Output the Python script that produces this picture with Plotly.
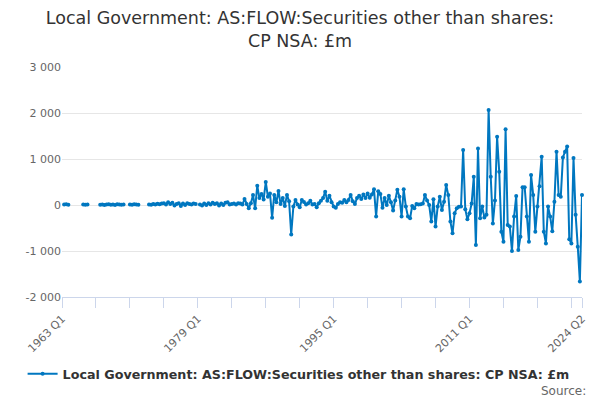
import plotly.graph_objects as go

# quarterly categories 1963 Q1 .. 2024 Q2
years = list(range(1963, 2025))
quarters = [f"{y} Q{q}" for y in years for q in (1, 2, 3, 4)][:246]

# £m, one row per year (None = no data)
values = [
    None, 10, 15, 5,          # 1963
    None, None, None, None,   # 1964
    None, None, 10, 5,        # 1965
    10, None, None, None,     # 1966
    None, None, 5, 10,        # 1967
    0, 10, 15, 5,             # 1968
    10, 0, 15, 10,            # 1969
    5, 10, None, None,        # 1970
    10, 5, 15, 10,            # 1971
    5, None, None, None,      # 1972
    None, 10, 5, 20,          # 1973
    10, 25, 15, 30,           # 1974
    40, 10, 60, 20,           # 1975
    50, -10, 20, 40,          # 1976
    -20, 30, 0, 40,           # 1977
    20, 10, 30, 20,           # 1978
    None, 10, -10, 30,        # 1979
    0, 40, 10, 50,            # 1980
    20, 40, -10, 30,          # 1981
    0, 50, 60, 10,            # 1982
    20, 30, 10, 40,           # 1983
    30, 10, 130, 20,          # 1984
    -70, 40, 220, -70,        # 1985
    420, 150, 240, 120,       # 1986
    500, 180, 250, -275,      # 1987
    220, 60, 305, 20,         # 1988
    150, -20, 220, 80,        # 1989
    -640, -35, 110, 10,       # 1990
    -50, 110, 65, 10,         # 1991
    40, 90, 10, 20,           # 1992
    -50, 40, 90, 150,         # 1993
    290, 90, 200, 60,         # 1994
    -35, -60, 20, 60,         # 1995
    50, 110, 60, 110,         # 1996
    220, 80, 20, 150,         # 1997
    200, 130, 230, 150,       # 1998
    250, 160, 230, 340,       # 1999
    -250, 300, 240, -60,      # 2000
    150, 0, 200, 60,          # 2001
    -120, 100, 330, 180,      # 2002
    -250, 340, -35, -250,     # 2003
    -290, -20, -70, 20,       # 2004
    10, 15, 30, 217,          # 2005
    100, 0, -360, 124,        # 2006
    -470, -35, 180, -110,     # 2007
    72, 435, 217, -360,       # 2008
    -615, -180, -70, -40,     # 2009
    -35, 1195, -90, -310,     # 2010
    -180, 30, 615, -870,      # 2011
    1230, -290, -35, -270,    # 2012
    -210, 2065, 615, -400,    # 2013
    100, 1485, 725, -580,     # 2014
    -800, 1645, -435, -470,   # 2015
    -1000, -250, 195, -980,   # 2016
    -690, 385, 385, -250,     # 2017
    -800, 650, 220, -580,     # 2018
    -35, 410, 1050, -580,     # 2019
    -835, -35, -250, -570,    # 2020
    72, 1160, 217, 180,       # 2021
    1035, 1160, 1270, -745,   # 2022
    -835, 1020, -210, -905,   # 2023
    -1665, 217,               # 2024
]

y_ticks = [-2000, -1000, 0, 1000, 2000, 3000]
y_labels = ["-2 000", "-1 000", "0", "1 000", "2 000", "3 000"]

# tick marks every 4 years, labels every 16 years plus the last quarter
x_ticks = quarters[::16] + [quarters[-1]]
x_labels = [q if (i * 16) % 64 == 0 else "" for i, q in enumerate(quarters[::16])] + [quarters[-1]]

name = "Local Government: AS:FLOW:Securities other than shares: CP NSA: £m"
blue = "#0077c0"

fig = go.Figure()
fig.add_trace(go.Scatter(
    x=quarters, y=values, name=name, mode="lines+markers",
    line=dict(color=blue, width=2),
    marker=dict(color=blue, size=4),
    connectgaps=False, cliponaxis=False,
))

# the page body adds an 8px offset, so margins are shifted up/left by 8
fig.update_layout(
    width=600, height=400,
    margin=dict(l=54, r=26, t=59, b=111),
    paper_bgcolor="white", plot_bgcolor="white",
    font=dict(family="DejaVu Sans", color="#666666", size=11),
    title=dict(
        text="Local Government: AS:FLOW:Securities other than shares:<br>CP NSA: £m",
        x=0.4867, xanchor="center", xref="container", y=0.96, yanchor="top",
        font=dict(size=17.5, color="#333333"),
    ),
    showlegend=True,
    legend=dict(
        orientation="h", x=0.455, xanchor="center", y=-0.335, yanchor="middle",
        font=dict(size=12.7, color="#333333", family="DejaVu Sans", weight="bold"),
        itemwidth=30,
    ),
    annotations=[dict(
        text="Source:", xref="paper", yref="paper", x=1.012, y=-0.41,
        xanchor="right", yanchor="middle", showarrow=False,
        font=dict(size=12, color="#666666"),
    )],
)

fig.update_xaxes(
    type="category", categoryorder="array", categoryarray=quarters,
    range=[0, len(quarters) - 1],
    tickmode="array", tickvals=x_ticks, ticktext=x_labels,
    tickangle=-45, ticks="outside", ticklen=10, tickcolor="#ccd6eb",
    showline=True, linecolor="#ccd6eb", linewidth=1,
    showgrid=False, zeroline=False,
    tickfont=dict(size=11, color="#666666"),
)
fig.update_yaxes(
    range=[-2000, 3000],
    tickmode="array", tickvals=y_ticks, ticktext=y_labels,
    showgrid=True, gridcolor="#e6e6e6", gridwidth=1,
    zeroline=False, showline=False,
    tickfont=dict(size=11, color="#666666"),
)

fig.write_html("out.html")
